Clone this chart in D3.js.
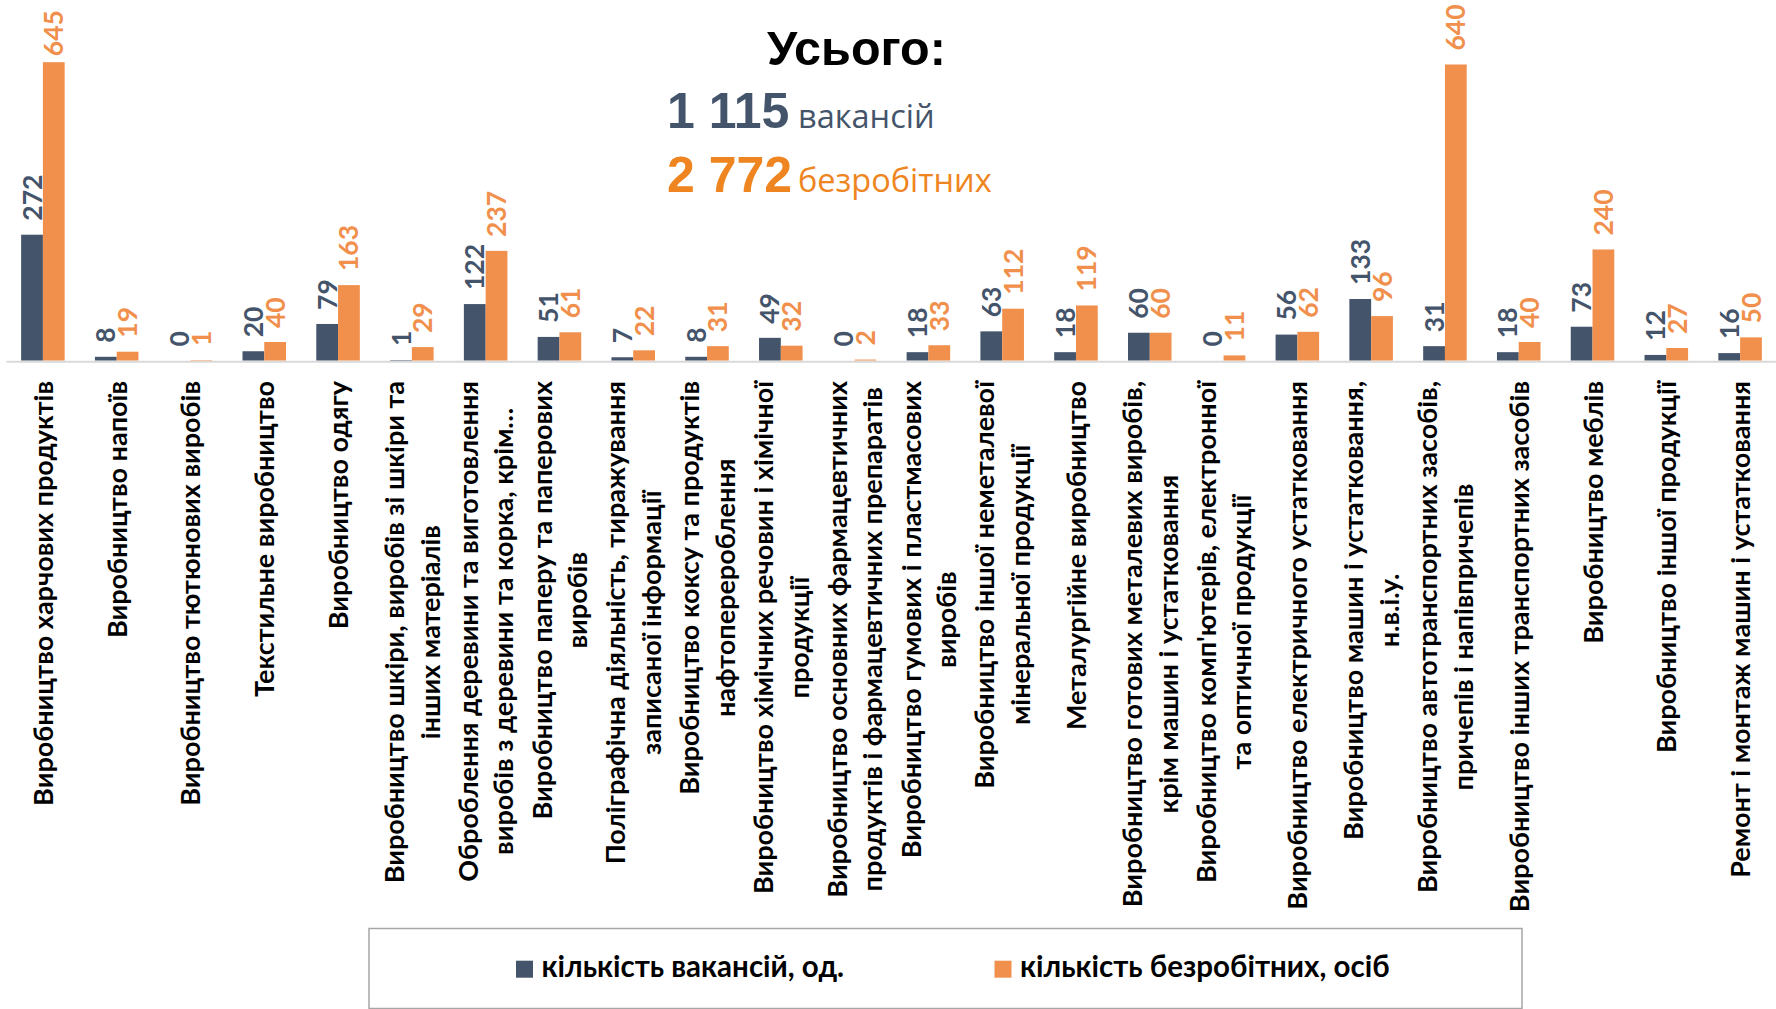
<!DOCTYPE html>
<html>
<head>
<meta charset="utf-8">
<script src="https://cdn.jsdelivr.net/npm/d3@7"></script>
<style>
  body { margin: 0; background: #fff; }
  svg { display: block; }
</style>
</head>
<body>
<svg id="chart" width="1776" height="1009"></svg>
<script>
// categories (each entry = lines of the wrapped axis label)
const categories = [
  ["Виробництво харчових продуктів"],
  ["Виробництво напоїв"],
  ["Виробництво тютюнових виробів"],
  ["Текстильне виробництво"],
  ["Виробництво одягу"],
  ["Виробництво шкіри, виробів зі шкіри та", "інших матеріалів"],
  ["Оброблення деревини та виготовлення", "виробів з деревини та корка, крім…"],
  ["Виробництво паперу та паперових", "виробів"],
  ["Поліграфічна діяльність, тиражування", "записаної інформації"],
  ["Виробництво коксу та продуктів", "нафтоперероблення"],
  ["Виробництво хімічних речовин і хімічної", "продукції"],
  ["Виробництво основних фармацевтичних", "продуктів і фармацевтичних препаратів"],
  ["Виробництво гумових і пластмасових", "виробів"],
  ["Виробництво іншої неметалевої", "мінеральної продукції"],
  ["Металургійне виробництво"],
  ["Виробництво готових металевих виробів,", "крім машин і устатковання"],
  ["Виробництво комп'ютерів, електронної", "та оптичної продукції"],
  ["Виробництво електричного устатковання"],
  ["Виробництво машин і устатковання,", "н.в.і.у."],
  ["Виробництво автотранспортних засобів,", "причепів і напівпричепів"],
  ["Виробництво інших транспортних засобів"],
  ["Виробництво меблів"],
  ["Виробництво іншої продукції"],
  ["Ремонт і монтаж машин і устатковання"]
];
const vacancies = [272, 8, 0, 20, 79, 1, 122, 51, 7, 8, 49, 0, 18, 63, 18, 60, 0, 56, 133, 31, 18, 73, 12, 16];
const unemployed = [645, 19, 1, 40, 163, 29, 237, 61, 22, 31, 32, 2, 33, 112, 119, 60, 11, 62, 96, 640, 40, 240, 27, 50];
const seriesNames = ["кількість вакансій, од.", "кількість безробітних, осіб"];
const seriesColors = ["#44546A", "#F0904C"];

const svg = d3.select("#chart");
const base = 360.5;

const x0 = d3.scaleBand()
    .domain(d3.range(categories.length))
    .range([6, 1777])
    .paddingInner(0.41)
    .paddingOuter(0.205);
const x1 = d3.scaleBand()
    .domain([0, 1])
    .range([0, x0.bandwidth()]);
const y = d3.scaleLinear()
    .domain([0, 700])
    .range([base, base - 700 * 0.4625]);

const rows = categories.map((c, i) => ({i: i, vals: [vacancies[i], unemployed[i]]}));

// axis line
const axis = svg.append("g")
    .attr("transform", `translate(0,${base + 0.8})`)
    .call(d3.axisBottom(x0).tickSize(0).tickFormat(""));
axis.select(".domain").attr("stroke", "#D9D9D9").attr("stroke-width", 2);

// bars
const groups = svg.append("g").selectAll("g")
    .data(rows)
    .enter().append("g")
    .attr("transform", d => `translate(${x0(d.i)},0)`);

groups.selectAll("rect")
    .data(d => d.vals.map((v, s) => ({v: v, s: s})))
    .enter().append("rect")
    .attr("x", d => x1(d.s))
    .attr("width", x1.bandwidth())
    .attr("y", d => y(d.v))
    .attr("height", d => base - y(d.v))
    .attr("fill", d => seriesColors[d.s]);

// value labels (rotated)
const labelSize = 26.5;
groups.selectAll("text.val")
    .data(d => d.vals.map((v, s) => ({v: v, s: s})))
    .enter().append("text")
    .attr("class", "val")
    .attr("font-family", "Lato, 'Open Sans', sans-serif")
    .attr("font-weight", "bold")
    .attr("font-size", labelSize)
    .attr("fill", d => seriesColors[d.s])
    .text(d => d.v)
    .each(function(d) {
        const len = this.getComputedTextLength();
        let bottom = y(d.v) - 14;
        if (bottom - len < 4) bottom = y(d.v) - 6;
        const cx = x1(d.s) + x1.bandwidth() / 2 + labelSize * 0.36;
        d3.select(this).attr("transform", `translate(${cx},${bottom}) rotate(-90)`);
    });

// category labels
const lineH = 35.7;
const catG = svg.append("g").selectAll("g")
    .data(rows)
    .enter().append("g")
    .attr("transform", d => `translate(${x0(d.i) + x0.bandwidth() / 2},381) rotate(-90)`);

catG.each(function(d) {
    const g = d3.select(this);
    const lines = categories[d.i];
    const n = lines.length;
    const texts = g.selectAll("text")
        .data(lines)
        .enter().append("text")
        .attr("font-family", "Lato, 'Open Sans', sans-serif")
        .attr("font-weight", "bold")
        .attr("font-size", 27)
        .attr("fill", "#000")
        .attr("text-anchor", "middle")
        .attr("y", (t, k) => (k - (n - 1) / 2) * lineH + 10)
        .text(t => t);
    let maxW = 0;
    texts.each(function() { maxW = Math.max(maxW, this.getComputedTextLength()); });
    texts.attr("x", -maxW / 2);
});

// totals block
const fmt = d3.formatLocale({decimal: ",", thousands: " ", grouping: [3], currency: ["", ""]}).format(",d");
svg.append("text")
    .attr("x", 767).attr("y", 65)
    .attr("font-family", "'Liberation Sans', Arial, sans-serif")
    .attr("font-weight", "bold").attr("font-size", 48.5)
    .attr("fill", "#000")
    .text("Усього:");

const totals = [
  {num: fmt(d3.sum(vacancies)), word: "вакансій", color: "#44546A", yb: 128.3},
  {num: fmt(d3.sum(unemployed)), word: "безробітних", color: "#EE8520", yb: 191.7}
];
totals.forEach(t => {
    svg.append("text")
        .attr("x", 667).attr("y", t.yb)
        .attr("font-family", "'Liberation Sans', Arial, sans-serif")
        .attr("font-weight", "bold").attr("font-size", 50)
        .attr("fill", t.color)
        .text(t.num);
    svg.append("text")
        .attr("x", 798).attr("y", t.yb)
        .attr("font-family", "'Open Sans', sans-serif")
        .attr("font-size", 32.5)
        .attr("fill", t.color)
        .text(t.word);
});

// legend
svg.append("rect")
    .attr("x", 369).attr("y", 928.5)
    .attr("width", 1153).attr("height", 80)
    .attr("fill", "none")
    .attr("stroke", "#A6A6A6").attr("stroke-width", 1.5);

const legendX = [516, 994.5];
const leg = svg.append("g").selectAll("g")
    .data(seriesNames)
    .enter().append("g")
    .attr("transform", (d, i) => `translate(${legendX[i]},0)`);
leg.append("rect")
    .attr("y", 960.7).attr("width", 17).attr("height", 17)
    .attr("fill", (d, i) => seriesColors[i]);
leg.append("text")
    .attr("x", 25.5).attr("y", 977.3)
    .attr("font-family", "Lato, 'Open Sans', sans-serif")
    .attr("font-weight", "bold").attr("font-size", 29.5)
    .attr("fill", "#000")
    .text(d => d);
</script>
</body>
</html>
